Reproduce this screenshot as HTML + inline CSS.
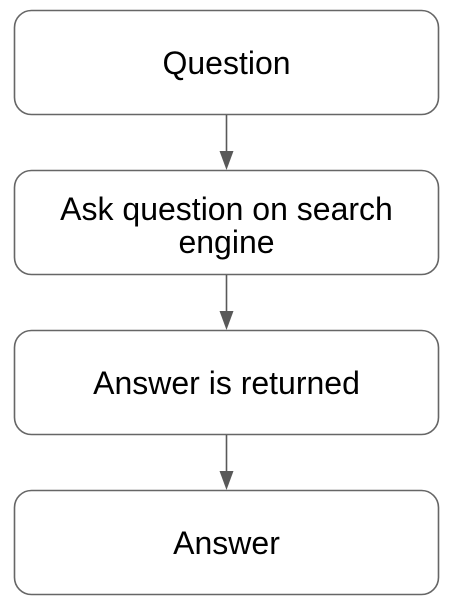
<!DOCTYPE html>
<html><head><style>
html,body{margin:0;padding:0;background:#fff;width:453px;height:607px;overflow:hidden}
svg{display:block}
text{font-family:"Liberation Sans",Arial,sans-serif;font-size:32px;fill:#000;text-anchor:middle}
</style></head><body>
<svg width="453" height="607" viewBox="0 0 453 607">
<g fill="#fff" stroke="#666" stroke-width="1.6">
<rect x="14.5" y="10.5" width="424" height="104" rx="17"/>
<rect x="14.5" y="170.5" width="424" height="104" rx="17"/>
<rect x="14.5" y="330.5" width="424" height="104" rx="17"/>
<rect x="14.5" y="490.5" width="424" height="104" rx="17"/>
</g>
<g stroke="#595959" stroke-width="1.6">
<line x1="226.5" y1="115" x2="226.5" y2="152"/>
<line x1="226.5" y1="275" x2="226.5" y2="312"/>
<line x1="226.5" y1="435" x2="226.5" y2="472"/>
</g>
<g fill="#595959">
<polygon points="219.5,151 233.5,151 226.5,170"/>
<polygon points="219.5,311 233.5,311 226.5,330"/>
<polygon points="219.5,471 233.5,471 226.5,490"/>
</g>
<text x="226.5" y="74">Question</text>
<text x="226.5" y="220">Ask question on search</text>
<text x="226.5" y="253">engine</text>
<text x="226.5" y="394">Answer is returned</text>
<text x="226.5" y="554">Answer</text>
</svg>
</body></html>
